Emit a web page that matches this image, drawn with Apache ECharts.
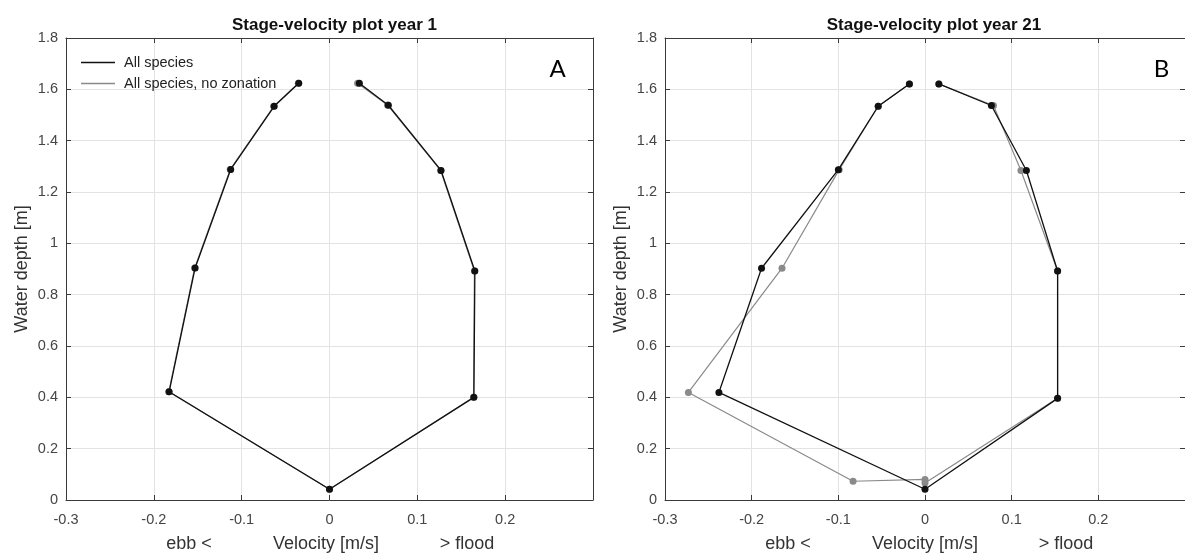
<!DOCTYPE html>
<html>
<head>
<meta charset="utf-8">
<script src="https://cdn.jsdelivr.net/npm/echarts@6/dist/echarts.min.js"></script>
<style>
  html, body { margin: 0; padding: 0; background: #fff; }
  #chart { width: 1185px; height: 554px; }
</style>
</head>
<body>
<div id="chart"></div>
<script>
// Stage-velocity profiles: velocity [m/s] (x) against water depth [m] (y)
const seriesNames = ['All species', 'All species, no zonation'];
const panelTitles = ['Stage-velocity plot year 1', 'Stage-velocity plot year 21'];
const panelLetters = ['A', 'B'];
const velocityTickLabels = ['-0.3', '-0.2', '-0.1', '0', '0.1', '0.2'];
const depthTickLabels = ['0', '0.2', '0.4', '0.6', '0.8', '1', '1.2', '1.4', '1.6', '1.8'];

// Year 1
const year1AllVelocity   = [-0.035, -0.063, -0.1125, -0.153, -0.1826, 0.0, 0.1644, 0.1655, 0.127, 0.067, 0.034];
const year1AllDepth      = [1.624, 1.534, 1.288, 0.904, 0.4215, 0.042, 0.400, 0.892, 1.284, 1.538, 1.624];
const year1NoZoneVelocity = [-0.0355, -0.0635, -0.113, -0.1535, -0.183, 0.0, 0.164, 0.165, 0.1265, 0.066, 0.032];
const year1NoZoneDepth    = [1.624, 1.534, 1.288, 0.904, 0.4215, 0.042, 0.400, 0.892, 1.284, 1.539, 1.624];

// Year 21
const year21AllVelocity   = [-0.018, -0.054, -0.100, -0.1886, -0.2378, 0.0, 0.153, 0.153, 0.117, 0.0766, 0.016];
const year21AllDepth      = [1.621, 1.534, 1.287, 0.903, 0.419, 0.042, 0.396, 0.892, 1.284, 1.537, 1.621];
const year21NoZoneVelocity = [-0.018, -0.054, -0.099, -0.165, -0.273, -0.083, 0.0, 0.0, 0.153, 0.153, 0.1107, 0.079, 0.016];
const year21NoZoneDepth    = [1.621, 1.534, 1.287, 0.903, 0.419, 0.073, 0.080, 0.066, 0.396, 0.892, 1.284, 1.537, 1.621];

const pairs = (xs, ys) => xs.map((x, i) => [x, ys[i]]);

const panels = [
  { all: pairs(year1AllVelocity, year1AllDepth), noZone: pairs(year1NoZoneVelocity, year1NoZoneDepth) },
  { all: pairs(year21AllVelocity, year21AllDepth), noZone: pairs(year21NoZoneVelocity, year21NoZoneDepth) }
];

const FONT = '"Liberation Sans", Arial, sans-serif';
const AXIS_COLOR = '#3a3a3a';
const LABEL_COLOR = '#454545';
const GRID_COLOR = '#e3e3e3';
const BLACK = '#111111';
const GRAY = '#8a8a8a';

const grids = [
  { left: 66, top: 38, width: 527, height: 462 },
  { left: 665, top: 38, width: 528, height: 462 }
];

const xAxes = [];
const yAxes = [];
const series = [];
const graphic = [];

grids.forEach((g, i) => {
  // bottom axis with labels
  xAxes.push({
    type: 'value', gridIndex: i, min: -0.3, max: 0.3, interval: 0.1,
    axisLine: { show: true, onZero: false, lineStyle: { color: AXIS_COLOR, width: 1 } },
    axisTick: { show: true, inside: true, length: 5, lineStyle: { color: AXIS_COLOR } },
    axisLabel: {
      show: true, showMaxLabel: false, margin: 12, color: LABEL_COLOR, fontFamily: FONT, fontSize: 14.5,
      formatter: v => velocityTickLabels[Math.round((v + 0.3) * 10)] || ''
    },
    splitLine: { show: true, lineStyle: { color: GRID_COLOR, width: 1 } }
  });
  // top box edge
  xAxes.push({
    type: 'value', gridIndex: i, position: 'top', min: -0.3, max: 0.3, interval: 0.1,
    axisLine: { show: true, onZero: false, lineStyle: { color: AXIS_COLOR, width: 1 } },
    axisTick: { show: true, inside: true, length: 5, lineStyle: { color: AXIS_COLOR } },
    axisLabel: { show: false }, splitLine: { show: false }
  });
  // left axis with labels
  yAxes.push({
    type: 'value', gridIndex: i, min: 0, max: 1.8, interval: 0.2,
    name: 'Water depth [m]', nameLocation: 'middle', nameGap: 35,
    nameTextStyle: { color: '#333', fontFamily: FONT, fontSize: 18 },
    axisLine: { show: true, onZero: false, lineStyle: { color: AXIS_COLOR, width: 1 } },
    axisTick: { show: true, inside: true, length: 5, lineStyle: { color: AXIS_COLOR } },
    axisLabel: {
      show: true, margin: 8, color: LABEL_COLOR, fontFamily: FONT, fontSize: 14.5,
      formatter: v => depthTickLabels[Math.round(v * 5)] || ''
    },
    splitLine: { show: true, lineStyle: { color: GRID_COLOR, width: 1 } }
  });
  // right box edge
  yAxes.push({
    type: 'value', gridIndex: i, position: 'right', min: 0, max: 1.8, interval: 0.2,
    axisLine: { show: true, onZero: false, lineStyle: { color: AXIS_COLOR, width: 1 } },
    axisTick: { show: true, inside: true, length: 5, lineStyle: { color: AXIS_COLOR } },
    axisLabel: { show: false }, splitLine: { show: false }
  });

  const p = panels[i];
  series.push({
    name: seriesNames[1], type: 'line', xAxisIndex: i * 2, yAxisIndex: i * 2,
    data: p.noZone, symbol: 'circle', symbolSize: 7, showAllSymbol: true,
    lineStyle: { color: GRAY, width: 1.2 }, itemStyle: { color: GRAY },
    emphasis: { disabled: true }, z: 2, animation: false
  });
  series.push({
    name: seriesNames[0], type: 'line', xAxisIndex: i * 2, yAxisIndex: i * 2,
    data: p.all, symbol: 'circle', symbolSize: 7, showAllSymbol: true,
    lineStyle: { color: BLACK, width: 1.3 }, itemStyle: { color: BLACK },
    emphasis: { disabled: true }, z: 3, animation: false
  });

  // velocity axis caption: direction hints either side of the unit label
  const captionY = 544;
  const captionFont = '18px ' + FONT;
  graphic.push(
    { type: 'text', x: g.left + 123, y: captionY,
      style: { text: 'ebb <', fill: '#333', font: captionFont, textAlign: 'center', textVerticalAlign: 'middle' } },
    { type: 'text', x: g.left + 260, y: captionY,
      style: { text: 'Velocity [m/s]', fill: '#333', font: captionFont, textAlign: 'center', textVerticalAlign: 'middle' } },
    { type: 'text', x: g.left + 401, y: captionY,
      style: { text: '> flood', fill: '#333', font: captionFont, textAlign: 'center', textVerticalAlign: 'middle' } },
    { type: 'text', x: i === 0 ? 557.5 : 1161.5, y: 69,
      style: { text: panelLetters[i], fill: '#000', font: '24px Lato, "Noto Sans", sans-serif',
               textAlign: 'center', textVerticalAlign: 'middle' } }
  );
});

const option = {
  backgroundColor: '#fff',
  animation: false,
  title: panelTitles.map((t, i) => ({
    text: t, left: grids[i].left + grids[i].width / 2, top: 12, textAlign: 'center',
    textStyle: { fontFamily: FONT, fontSize: 17, fontWeight: 'bold', color: '#111' }
  })),
  legend: {
    orient: 'vertical', left: 76, top: 50, itemGap: 6,
    itemWidth: 34, itemHeight: 1.4,
    textStyle: { fontFamily: FONT, fontSize: 14.5, color: '#222', padding: [0, 0, 0, 4] },
    data: [
      { name: seriesNames[0], icon: 'rect', itemStyle: { color: BLACK } },
      { name: seriesNames[1], icon: 'rect', itemStyle: { color: GRAY } }
    ],
    selectedMode: false
  },
  grid: grids,
  xAxis: xAxes,
  yAxis: yAxes,
  series: series,
  graphic: graphic
};

const chart = echarts.init(document.getElementById('chart'), null, { renderer: 'canvas' });
chart.setOption(option);
</script>
</body>
</html>
